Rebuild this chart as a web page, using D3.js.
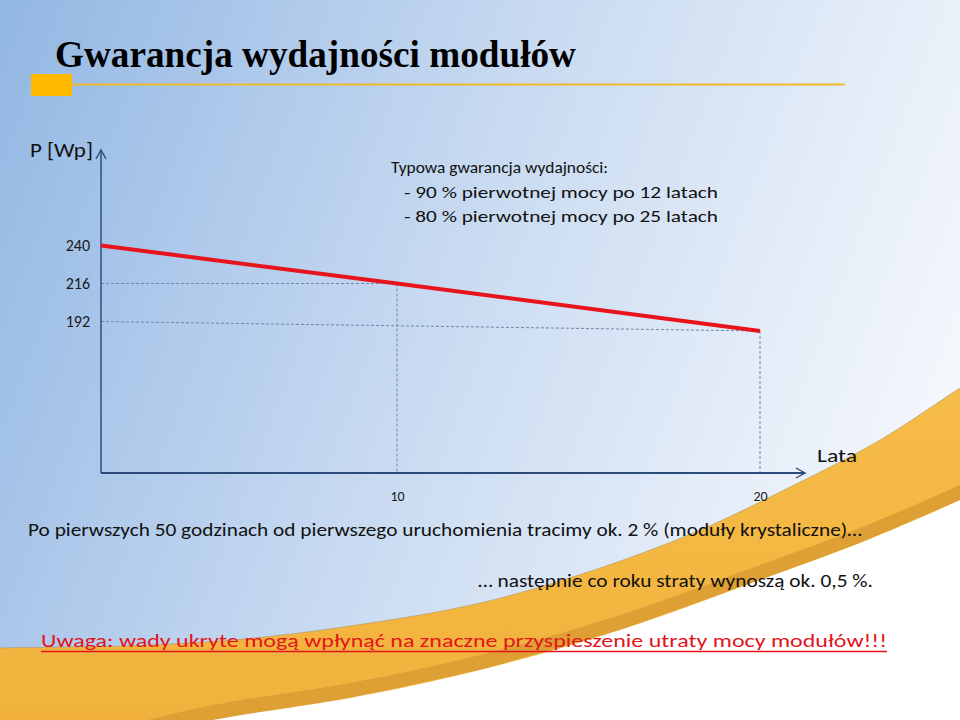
<!DOCTYPE html>
<html>
<head>
<meta charset="utf-8">
<script src="https://cdn.jsdelivr.net/npm/d3@7"></script>
<style>
  html, body { margin: 0; padding: 0; background: #fff; }
  svg { display: block; }
</style>
</head>
<body>
<svg id="chart" width="960" height="720"></svg>
<script>
// ---------- data ----------
const titleText = "Gwarancja wydajności modułów";
const yAxisLabel = "P [Wp]";
const xAxisLabel = "Lata";
const years = [0, 10, 20];          // x positions of the line's vertices (axis ticks 10, 20)
const power = [240, 216, 186];      // P [Wp]
const yTicks = [240, 216, 192];
const xTicks = [10, 20];
const guideLevels = [216, 192];     // dashed guides start at these tick values
const guideIndex = [1, 2];          // ...and end at these line vertices
const noteLines = [
  "Typowa gwarancja wydajności:",
  "- 90 % pierwotnej mocy po 12 latach",
  "- 80 % pierwotnej mocy po 25 latach"
];
const bottomLine1 = "Po pierwszych 50 godzinach od pierwszego uruchomienia tracimy ok. 2 % (moduły krystaliczne)\u2026";
const bottomLine2 = "\u2026 następnie co roku straty wynoszą ok. 0,5 %.";
const warningText = "Uwaga: wady ukryte mogą wpłynąć na znaczne przyspieszenie utraty mocy modułów!!!";

// ---------- setup ----------
const W = 960, H = 720;
const svg = d3.select("#chart");
const defs = svg.append("defs");
const sans = "Carlito, Lato, 'Open Sans', sans-serif";

// background gradient
const bg = defs.append("linearGradient").attr("id", "bg")
  .attr("gradientUnits", "userSpaceOnUse")
  .attr("x1", 0).attr("y1", 0).attr("x2", 960).attr("y2", 360);
bg.append("stop").attr("offset", 0).attr("stop-color", "#92b7e3");
bg.append("stop").attr("offset", 0.5).attr("stop-color", "#c8daf1");
bg.append("stop").attr("offset", 1).attr("stop-color", "#f4f7fc");

svg.append("rect").attr("width", W).attr("height", H).attr("fill", "url(#bg)");

// decorative swoosh (bottom right)
const upperEdge = [[-20,649],[0,648],[120,646],[233,640],[350,626],[480,603],[600,568],[700,530],[780,492],[880,440],[960,388],[990,370]];
const lowerEdge = [[120,742],[213,720],[350,698],[480,670],[620,630],[760,580],[860,543],[960,500],[990,485]];
const curve = d3.line().curve(d3.curveCatmullRom.alpha(0.5));
const orangeGrad = defs.append("linearGradient").attr("id", "og")
  .attr("x1", 0).attr("y1", 0).attr("x2", 0).attr("y2", 1);
orangeGrad.append("stop").attr("offset", 0).attr("stop-color", "#f6bd48");
orangeGrad.append("stop").attr("offset", 1).attr("stop-color", "#f1b13c");

// orange body: from upper edge down to the bottom
svg.append("path")
  .attr("d", curve(upperEdge) + "L990,760L-20,760Z")
  .attr("fill", "url(#og)");
// darker rim along the lower edge
const rimTop = lowerEdge.map(([x, y]) => [x, y - 15]);
svg.append("path")
  .attr("d", curve(rimTop) + "L" + lowerEdge.slice().reverse().map(p => p.join(",")).join("L") + "Z")
  .attr("fill", "#dea035");
// white below
svg.append("path")
  .attr("d", curve(lowerEdge) + "L990,760L100,760Z")
  .attr("fill", "#ffffff");
// soft shadow on top edge of the band
svg.append("path")
  .attr("d", curve(upperEdge))
  .attr("fill", "none").attr("stroke", "#9a8a6a").attr("stroke-opacity", 0.45).attr("stroke-width", 1);

// ---------- title ----------
svg.append("text")
  .attr("x", 55).attr("y", 67)
  .attr("font-family", "'Liberation Serif', 'Times New Roman', serif")
  .attr("font-weight", "bold").attr("font-size", 37)
  .attr("fill", "#000")
  .attr("textLength", 521).attr("lengthAdjust", "spacingAndGlyphs")
  .text(titleText);
svg.append("line")
  .attr("x1", 72).attr("x2", 845).attr("y1", 84.5).attr("y2", 84.5)
  .attr("stroke", "#f0b92c").attr("stroke-width", 2.2);
svg.append("rect")
  .attr("x", 31).attr("y", 74).attr("width", 41).attr("height", 22)
  .attr("fill", "#ffba00");

// ---------- scales ----------
const x = d3.scaleLinear().domain(years).range([101, 397, 760]);
const y = d3.scaleLinear().domain([192, 240]).range([321.5, 245.5]);
const axisY0 = 473;   // x-axis baseline
const axisTop = 150;  // y-axis arrow tip
const axisRight = 805;

// arrow marker
defs.append("marker").attr("id", "arrow")
  .attr("viewBox", "-10 -6 12 12")
  .attr("refX", 0).attr("refY", 0)
  .attr("markerWidth", 12).attr("markerHeight", 12)
  .attr("markerUnits", "userSpaceOnUse")
  .attr("orient", "auto")
  .append("path").attr("d", "M-9,-5L0,0L-9,5")
  .attr("fill", "none").attr("stroke", "#2c4a7a").attr("stroke-width", 1.4);

// guides (dashed)
const guideColor = "#6d88ad";
guideLevels.forEach((lv, i) => {
  const k = guideIndex[i];
  svg.append("line")
    .attr("x1", x(years[0])).attr("y1", y(lv))
    .attr("x2", x(years[k])).attr("y2", y(power[k]))
    .attr("stroke", guideColor).attr("stroke-width", 1).attr("stroke-dasharray", "3,2");
  svg.append("line")
    .attr("x1", x(years[k])).attr("y1", y(power[k]))
    .attr("x2", x(years[k])).attr("y2", axisY0)
    .attr("stroke", guideColor).attr("stroke-width", 1).attr("stroke-dasharray", "3,2");
});

// axes lines
svg.append("line")
  .attr("x1", x(0)).attr("y1", axisY0).attr("x2", x(0)).attr("y2", axisTop)
  .attr("stroke", "#34558a").attr("stroke-width", 1.6).attr("marker-end", "url(#arrow)");
svg.append("line")
  .attr("x1", x(0)).attr("y1", axisY0).attr("x2", axisRight).attr("y2", axisY0)
  .attr("stroke", "#2c4a7a").attr("stroke-width", 1.8).attr("marker-end", "url(#arrow)");

// tick labels via d3 axes
const gy = svg.append("g").attr("transform", `translate(${x(0)},0)`)
  .call(d3.axisLeft(y).tickValues(yTicks).tickSize(0).tickPadding(11));
gy.select(".domain").remove();
gy.selectAll("text").attr("font-family", sans).attr("font-size", 16).attr("fill", "#1a1a1a");

const gx = svg.append("g").attr("transform", `translate(0,${axisY0})`)
  .call(d3.axisBottom(x).tickValues(xTicks).tickSize(0).tickPadding(18));
gx.select(".domain").remove();
gx.selectAll("text").attr("font-family", sans).attr("font-size", 14).attr("fill", "#1a1a1a");

// axis titles
svg.append("text").attr("x", 93).attr("y", 157).attr("text-anchor", "end")
  .attr("font-family", sans).attr("font-size", 20.5).attr("fill", "#111")
  .attr("textLength", 63).attr("lengthAdjust", "spacingAndGlyphs")
  .text(yAxisLabel);
svg.append("text").attr("x", 817).attr("y", 462)
  .attr("font-family", sans).attr("font-size", 19).attr("fill", "#111")
  .attr("textLength", 40).attr("lengthAdjust", "spacingAndGlyphs")
  .text(xAxisLabel);

// red line
svg.append("path")
  .datum(years.map((yr, i) => ({ yr, p: power[i] })))
  .attr("d", d3.line().x(d => x(d.yr)).y(d => y(d.p)))
  .attr("fill", "none").attr("stroke", "#e8141b").attr("stroke-width", 4);

// note
const noteX = [391, 404, 404];
const noteY = [173, 198, 222];
const noteW = [217, 314, 314];
const noteFs = [16, 16.5, 16.5];
noteLines.forEach((t, i) => {
  svg.append("text").attr("x", noteX[i]).attr("y", noteY[i])
    .attr("font-family", sans).attr("font-size", noteFs[i]).attr("fill", "#111")
    .attr("textLength", noteW[i]).attr("lengthAdjust", "spacingAndGlyphs")
    .text(t);
});

// bottom texts
svg.append("text").attr("x", 28).attr("y", 536)
  .attr("font-family", sans).attr("font-size", 18.5).attr("fill", "#111")
  .attr("textLength", 834).attr("lengthAdjust", "spacingAndGlyphs")
  .text(bottomLine1);
svg.append("text").attr("x", 478).attr("y", 587)
  .attr("font-family", sans).attr("font-size", 18.5).attr("fill", "#111")
  .attr("textLength", 395).attr("lengthAdjust", "spacingAndGlyphs")
  .text(bottomLine2);
svg.append("text").attr("x", 41).attr("y", 647)
  .attr("font-family", sans).attr("font-size", 19).attr("fill", "#e3141c")
  .attr("textLength", 846).attr("lengthAdjust", "spacingAndGlyphs")
  .text(warningText);
svg.append("line").attr("x1", 41).attr("x2", 887).attr("y1", 651.5).attr("y2", 651.5)
  .attr("stroke", "#e3141c").attr("stroke-width", 1.5);
</script>
</body>
</html>
